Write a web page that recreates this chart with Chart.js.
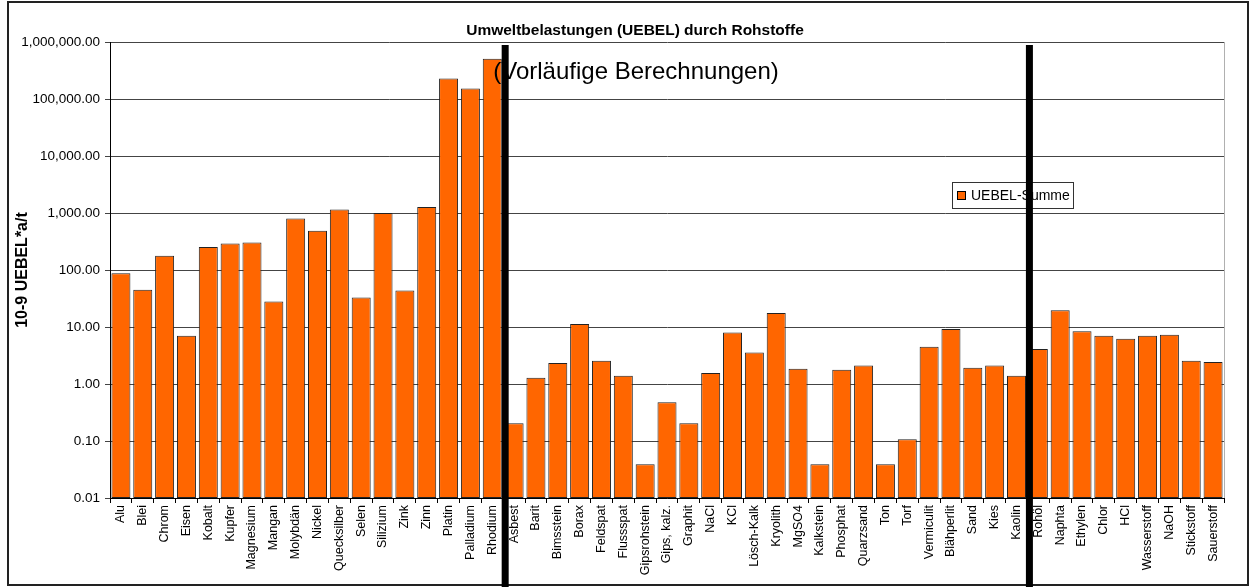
<!DOCTYPE html>
<html>
<head>
<meta charset="utf-8">
<script src="https://cdn.jsdelivr.net/npm/chart.js@4/dist/chart.umd.min.js"></script>
<style>
  body { margin: 0; background: #fff; }
  #wrap { position: relative; width: 1253px; height: 587px; }
</style>
</head>
<body>
<div id="wrap"><canvas id="uebel_chart" width="1253" height="587"></canvas></div>
<script>
// Rohstoffe, grouped: metals | minerals | petrochemicals
var metal_labels = ['Alu', 'Blei', 'Chrom', 'Eisen', 'Kobalt', 'Kupfer', 'Magnesium', 'Mangan', 'Molybdän',
  'Nickel', 'Quecksilber', 'Selen', 'Silizium', 'Zink', 'Zinn', 'Platin', 'Palladium', 'Rhodium'];
var metal_values = [87.5, 45, 178, 7.0, 253, 292, 304, 28, 800,
  490, 1150, 33, 1000, 43.5, 1275, 230000, 153000, 510000];

var mineral_labels = ['Asbest', 'Barit', 'Bimsstein', 'Borax', 'Feldspat', 'Flussspat', 'Gipsrohstein', 'Gips, kalz.',
  'Graphit', 'NaCl', 'KCl', 'Lösch-Kalk', 'Kryolith', 'MgSO4', 'Kalkstein', 'Phosphat', 'Quarzsand', 'Ton', 'Torf',
  'Vermiculit', 'Blähperlit', 'Sand', 'Kies', 'Kaolin'];
var mineral_values = [0.204, 1.29, 2.33, 11.3, 2.56, 1.4, 0.039, 0.48,
  0.204, 1.56, 8.0, 3.58, 17.6, 1.85, 0.039, 1.78, 2.12, 0.039, 0.107,
  4.5, 9.2, 1.93, 2.12, 1.4];

var petro_labels = ['Rohöl', 'Naphta', 'Ethylen', 'Chlor', 'HCl', 'Wasserstoff', 'NaOH', 'Stickstoff', 'Sauerstoff'];
var petro_values = [4.1, 19.6, 8.4, 7.0, 6.2, 7.0, 7.3, 2.56, 2.43];

var y_ticks = [0.01, 0.1, 1, 10, 100, 1000, 10000, 100000, 1000000];

var all_labels = metal_labels.concat(mineral_labels, petro_labels);
var all_values = metal_values.concat(mineral_values, petro_values);

// group separators sit between the last item of one group and the first of the next
var separator_idx = [metal_labels.length - 0.5, metal_labels.length + mineral_labels.length - 0.5];

var FONT = "Arial, 'Liberation Sans', sans-serif";
var BAR_COLOR = '#FF6600';

const framePlugin = {
  id: 'frame',
  beforeDraw(chart) {
    const ctx = chart.ctx;
    ctx.save();
    ctx.fillStyle = '#fff';
    ctx.fillRect(0, 0, chart.width, chart.height);
    ctx.strokeStyle = '#222';
    ctx.lineWidth = 2;
    ctx.strokeRect(8, 2, 1240, 583);
    ctx.restore();
  }
};

const extrasPlugin = {
  id: 'extras',
  afterDraw(chart) {
    const ctx = chart.ctx;
    const area = chart.chartArea;
    const xs = chart.scales.x;

    // light border right of plot area
    ctx.save();
    ctx.strokeStyle = '#b0b0b0';
    ctx.lineWidth = 1;
    ctx.beginPath();
    ctx.moveTo(area.right + 0.5, area.top);
    ctx.lineTo(area.right + 0.5, area.bottom);
    ctx.stroke();

    // main title (centred on the frame, not the plot area)
    ctx.fillStyle = '#000';
    ctx.textAlign = 'center';
    ctx.textBaseline = 'middle';
    ctx.font = 'bold 15.5px ' + FONT;
    ctx.fillText('Umweltbelastungen (UEBEL) durch Rohstoffe', 635, 31);

    // subtitle text box
    ctx.font = '24px ' + FONT;
    ctx.fillText('(Vorläufige Berechnungen)', 636, 72);

    // legend box
    const lx = 952, ly = 182, lw = 121, lh = 26;
    ctx.fillStyle = '#fff';
    ctx.fillRect(lx, ly, lw, lh);
    ctx.strokeStyle = '#333';
    ctx.lineWidth = 1;
    ctx.strokeRect(lx + 0.5, ly + 0.5, lw, lh);
    ctx.fillStyle = BAR_COLOR;
    ctx.fillRect(lx + 5, ly + 9, 9, 9);
    ctx.strokeStyle = '#000';
    ctx.strokeRect(lx + 5.5, ly + 9.5, 8, 8);
    ctx.fillStyle = '#000';
    ctx.font = '14px ' + FONT;
    ctx.textAlign = 'left';
    ctx.fillText('UEBEL-Summe', lx + 19, ly + 14);

    // thick group separators
    ctx.fillStyle = '#000';
    separator_idx.forEach(function (v) {
      const px = xs.getPixelForValue(v) + 2;
      ctx.fillRect(px - 3.5, area.top + 3, 7, chart.height - area.top - 3);
    });
    ctx.restore();
  }
};

const config = {
  type: 'bar',
  data: {
    labels: all_labels,
    datasets: [{
      label: 'UEBEL-Summe',
      data: all_values,
      backgroundColor: BAR_COLOR,
      borderColor: '#222',
      borderWidth: 1,
      borderSkipped: false,
      categoryPercentage: 1.0,
      barPercentage: 0.87
    }]
  },
  options: {
    responsive: false,
    animation: false,
    layout: { padding: { left: 10, right: 29, top: 42, bottom: 0 } },
    plugins: {
      legend: { display: false },
      tooltip: { enabled: false },
      title: { display: false }
    },
    scales: {
      x: {
        offset: true,
        grid: { display: true, drawOnChartArea: false, offset: true, color: '#000', tickLength: 5 },
        border: { display: true, color: '#000', width: 1 },
        ticks: {
          autoSkip: false, maxRotation: 90, minRotation: 90, padding: 2,
          color: '#000', font: { family: FONT, size: 12.5 }
        },
        afterFit: function (s) { s.height = 89; }
      },
      y: {
        type: 'logarithmic',
        min: 0.01,
        max: 1000000,
        afterBuildTicks: function (s) { s.ticks = y_ticks.map(function (v) { return { value: v }; }); },
        afterFit: function (s) { s.width = 100; },
        grid: { color: '#444', lineWidth: 1, tickLength: 5 },
        border: { display: true, color: '#000', width: 1 },
        ticks: {
          padding: 5,
          color: '#000',
          font: { family: FONT, size: 13.5 },
          callback: function (v) {
            return Number(v).toLocaleString('en-US', { minimumFractionDigits: 2, maximumFractionDigits: 2 });
          }
        },
        title: {
          display: true,
          text: '10-9 UEBEL*a/t',
          color: '#000',
          font: { family: FONT, size: 16, weight: 'bold' },
          padding: { top: 3, bottom: 0 }
        }
      }
    }
  },
  plugins: [framePlugin, extrasPlugin]
};

const uebelChart = new Chart(document.getElementById('uebel_chart'), config);
</script>
</body>
</html>
